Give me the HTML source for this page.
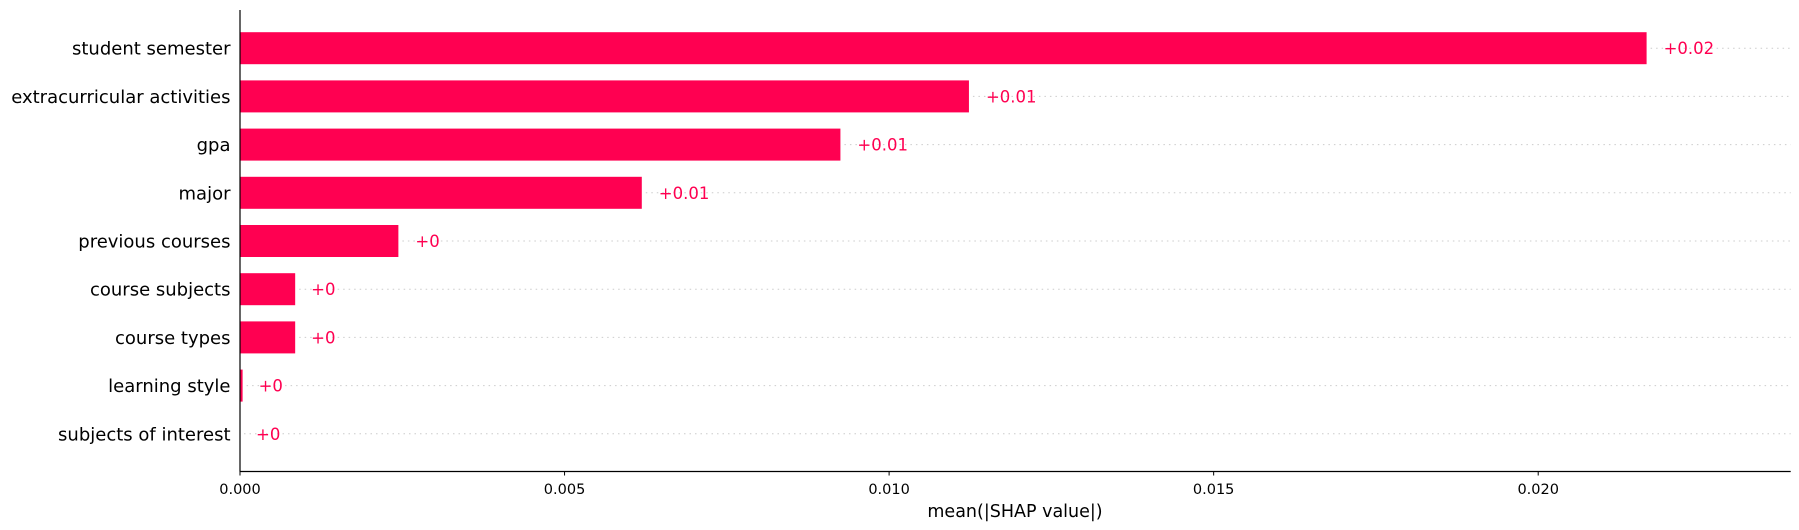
<!DOCTYPE html>
<html><head><meta charset="utf-8"><style>
body{margin:0;background:#fff;}
svg{display:block;font-family:"DejaVu Sans","Liberation Sans",sans-serif;}
</style></head><body>
<svg id="chart" width="1799" height="530"></svg>
<script>
const features = ["student semester","extracurricular activities","gpa","major","previous courses","course subjects","course types","learning style","subjects of interest"];
const values = [0.02167,0.01123,0.00925,0.00619,0.00244,0.00085,0.00085,0.00004,0.0];
const valueLabels = ["+0.02","+0.01","+0.01","+0.01","+0","+0","+0","+0","+0"];
const ticks = [0.000,0.005,0.010,0.015,0.020];
const tickLabels = ["0.000","0.005","0.010","0.015","0.020"];

const NS="http://www.w3.org/2000/svg";
const svg=document.getElementById('chart');
const x0=240, xMaxPx=1790.7, xMax=0.02389;
const xs=v=>x0+(v/xMax)*(xMaxPx-x0);
const y0=48.2, step=48.2, barH=32, axisY=471.5;
const ys=i=>y0+i*step;
function mk(t,a){const e=document.createElementNS(NS,t);for(const k in a)e.setAttribute(k,a[k]);svg.appendChild(e);return e;}

features.forEach((f,i)=>{
  const y=ys(i), xe=xs(values[i]);
  const g=mk('line',{x1:xe+4,x2:xMaxPx,y1:y,y2:y,stroke:'#cccccc','stroke-width':1,'stroke-dasharray':'1.5,4'});
  
  
  const b=mk('rect',{x:x0,y:y-barH/2,width:Math.max(0,xe-x0),height:barH,fill:'#ff0051'});
  
  
  const vl=mk('text',{x:xe+(values[i]>0.001?17:16),y:y+6,fill:'#ff0051','font-size':'16.5'});
  vl.textContent=valueLabels[i];
  
  
  const l=mk('text',{x:230.5,y:y+6.5,'text-anchor':'end',fill:'#000','font-size':'18'});
  l.textContent=f;
  
  
});
const ya=mk('line',{x1:x0,x2:x0,y1:10,y2:axisY,stroke:'#000','stroke-width':1.2});


const xa=mk('line',{x1:x0,x2:xMaxPx,y1:axisY,y2:axisY,stroke:'#000','stroke-width':1.2});


ticks.forEach((t,i)=>{
  const x=xs(t);
  const tk=mk('line',{x1:x,x2:x,y1:axisY,y2:axisY+4,stroke:'#000','stroke-width':1});
  
  
  const tl=mk('text',{x:x,y:494,'text-anchor':'middle','font-size':'14.5',fill:'#000'});
  tl.textContent=tickLabels[i];
  
  
});
const xt=mk('text',{x:1015,y:517,'text-anchor':'middle','font-size':'17.5',fill:'#000'});
xt.textContent='mean(|SHAP value|)';


</script>
</body></html>
